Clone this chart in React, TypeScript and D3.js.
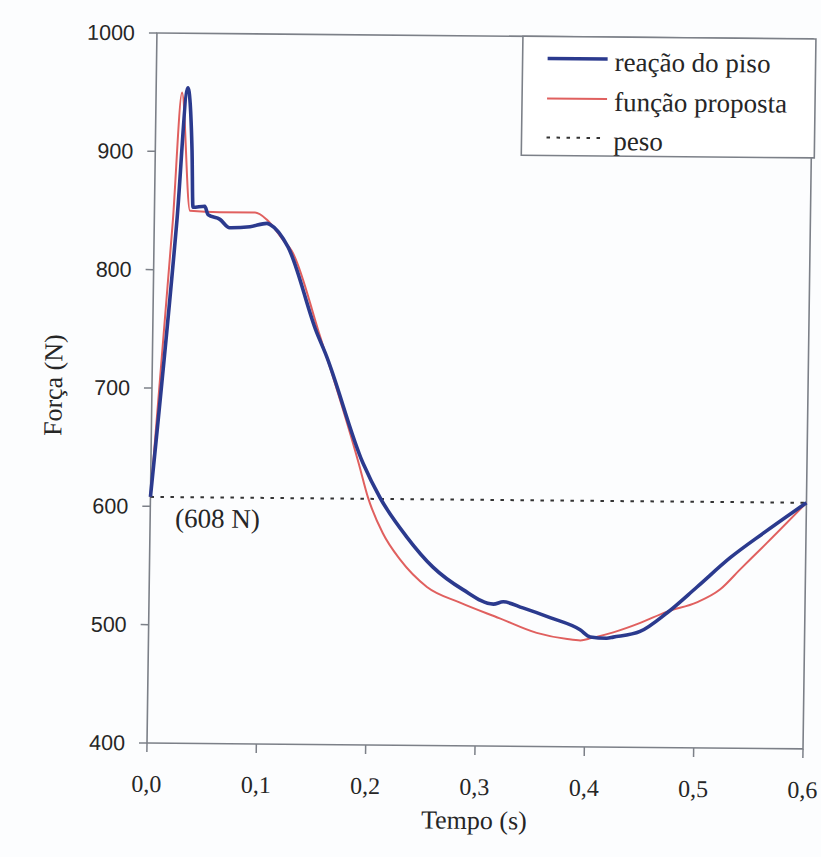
import React from "react";
import * as d3 from "d3";

// ---- data (time in s, force in N) ----
const reacaoT = [0, 0.0207, 0.029, 0.0336, 0.0352, 0.046, 0.049, 0.060, 0.069, 0.0876, 0.103, 0.106, 0.1227, 0.150, 0.158, 0.194, 0.210, 0.235, 0.259, 0.287, 0.315, 0.324, 0.342, 0.367, 0.3946, 0.404, 0.419, 0.425, 0.4495, 0.474, 0.501, 0.531, 0.561, 0.6];
const reacaoF = [608, 842, 954, 901, 853, 854, 847, 843, 836, 837, 840, 839, 820, 748, 731, 638, 609, 576, 551, 532, 520, 522, 517, 509, 499, 493, 492, 493, 498, 514, 536, 561, 582, 608];

const funcaoT = [0, 0.017, 0.0237, 0.0325, 0.06, 0.092, 0.103, 0.118, 0.126, 0.152, 0.19, 0.199, 0.213, 0.229, 0.254, 0.2845, 0.321, 0.355, 0.383, 0.395, 0.405, 0.425, 0.449, 0.474, 0.501, 0.522, 0.540, 0.5646, 0.6];
const funcaoF = [608, 842, 950, 850, 849, 849, 843, 826, 817, 748, 638, 609, 579, 557, 534, 521, 508, 496, 491, 490, 492, 497, 505, 515, 523, 534, 551, 574, 608];

const peso = 608;
const xTicks = [0, 0.1, 0.2, 0.3, 0.4, 0.5, 0.6];
const yTicks = [400, 500, 600, 700, 800, 900, 1000];
const legendLabels = ["reação do piso", "função proposta", "peso"];

const BLUE = "#2b3a8e";
const RED = "#e0605f";
const AXIS = "#7c8088";
const TEXT = "#262626";
const SERIF = "'Liberation Serif', 'Times New Roman', serif";
const SANS = "'Liberation Sans', Arial, sans-serif";

export default function App() {
  const x0 = 147, x1 = 803, yTop = 33, yBot = 743;
  const x = d3.scaleLinear().domain([0, 0.6]).range([x0, x1]);
  const y = d3.scaleLinear().domain([400, 1000]).range([yBot, yTop]);

  const line = d3
    .line<[number, number]>()
    .x((d) => x(d[0]))
    .y((d) => y(d[1]))
    .curve(d3.curveMonotoneX);

  const blue = line(reacaoT.map((t, i) => [t, reacaoF[i]] as [number, number])) || "";
  const red = line(funcaoT.map((t, i) => [t, funcaoF[i]] as [number, number])) || "";

  const fmt = (v: number) => d3.format(".1f")(v).replace(".", ",");

  // slight skew, as in the scanned original
  const k = 0.014, m = 0.009;
  const skew = `translate(${x0},${yBot}) matrix(1,${m},${-k},1,0,0) translate(${-x0},${-yBot})`;

  const legX = 513, legY = 33, legW = 293, legH = 119;
  const rows = [55, 95, 134];

  return (
    <svg
      width={821}
      height={857}
      style={{ position: "absolute", left: 0, top: 0, background: "#ffffff" }}
    >
      <rect x={0} y={0} width={821} height={857} fill="#fcfdfe" />
      <g transform={skew}>
        {/* frame */}
        <rect x={x0} y={yTop} width={x1 - x0} height={yBot - yTop} fill="none" stroke={AXIS} strokeWidth={1.6} />

        {/* y ticks */}
        {yTicks.map((v) => (
          <g key={"y" + v}>
            <line x1={x0 - 8} x2={x0} y1={y(v)} y2={y(v)} stroke={AXIS} strokeWidth={1.5} />
            <text x={125} y={y(v) + 7.5} textAnchor="end" fontFamily={SANS} fontSize={21.5} fill={TEXT}>
              {v}
            </text>
          </g>
        ))}

        {/* x ticks */}
        {xTicks.map((v) => (
          <g key={"x" + v}>
            <line x1={x(v)} x2={x(v)} y1={yBot} y2={yBot + 9} stroke={AXIS} strokeWidth={1.5} />
            <text x={x(v)} y={792} textAnchor="middle" fontFamily={SERIF} fontSize={24} fill={TEXT}>
              {fmt(v)}
            </text>
          </g>
        ))}

        {/* axis titles */}
        <text x={475} y={826} textAnchor="middle" fontFamily={SERIF} fontSize={26} fill={TEXT}>
          Tempo (s)
        </text>
        <text transform="translate(57,386) rotate(-90)" textAnchor="middle" fontFamily={SERIF} fontSize={26} fill={TEXT}>
          Força (N)
        </text>

        {/* peso */}
        <line x1={x(0)} x2={x(0.6)} y1={y(peso)} y2={y(peso)} stroke="#333" strokeWidth={2} strokeDasharray="3.5 6.5" />
        <text x={172} y={527} fontFamily={SERIF} fontSize={27} fill={TEXT}>
          (608 N)
        </text>

        {/* series */}
        <path d={red} fill="none" stroke={RED} strokeWidth={2} />
        <path d={blue} fill="none" stroke={BLUE} strokeWidth={3.6} strokeLinejoin="round" />

        {/* legend */}
        <rect x={legX} y={legY} width={legW} height={legH} fill="#fff" stroke={AXIS} strokeWidth={1.6} />
        <line x1={538} x2={598} y1={rows[0]} y2={rows[0]} stroke={BLUE} strokeWidth={3.6} />
        <line x1={538} x2={598} y1={rows[1]} y2={rows[1]} stroke={RED} strokeWidth={2} />
        <line x1={538} x2={598} y1={rows[2]} y2={rows[2]} stroke="#333" strokeWidth={2} strokeDasharray="3.5 6.5" />
        {legendLabels.map((lab, i) => (
          <text key={lab} x={605} y={rows[i] + 12} fontFamily={SERIF} fontSize={27} fill={TEXT}>
            {lab}
          </text>
        ))}
      </g>
    </svg>
  );
}
